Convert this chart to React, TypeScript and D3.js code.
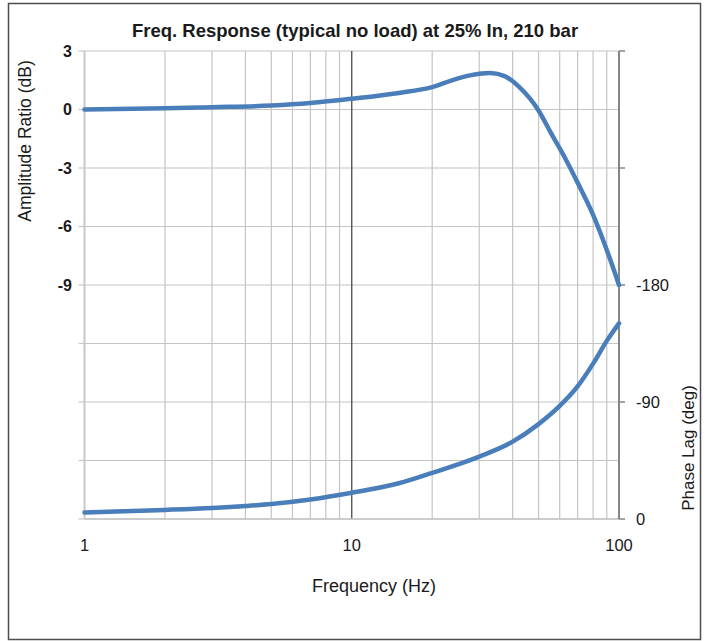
import React from 'react'
import * as d3 from 'd3'

// amplitude ratio
const ampFreq = [1, 2, 3, 5, 7, 10, 15, 20, 25, 30, 33, 37.5, 42, 50, 55.6, 62.6, 70, 80, 90, 100]
const ampDb = [0, 0.07, 0.12, 0.2, 0.33, 0.55, 0.85, 1.15, 1.6, 1.83, 1.87, 1.7, 1.2, -0.05, -1.2, -2.45, -3.75, -5.4, -7.2, -9]

// phase lag
const phaseFreq = [1, 2, 3, 4, 5, 7, 10, 15, 20, 30, 40, 50, 60, 70, 80, 90, 100]
const phaseDeg = [-5, -7, -8.5, -10, -11.5, -15, -20.2, -27.5, -35.5, -48, -59.5, -73, -87, -102, -119.5, -137, -150.5]

const dbTicks = [3, 0, -3, -6, -9]
const phaseTicks = [0, -90, -180]
const freqTicks = [1, 10, 100]

const title = 'Freq. Response (typical no load) at 25% In, 210 bar'

export default function App() {
  const width = 708
  const height = 641
  const left = 84.5, right = 619, top = 51, bottom = 519

  const x = d3.scaleLog().domain([1, 100]).range([left, right])
  const yDb = d3.scaleLinear().domain([-21, 3]).range([bottom, top])
  const yPh = d3.scaleLinear().domain([0, -360]).range([bottom, top])

  const minorFreqs = d3.range(1, 100).filter(f => f < 10 || (f % 10 === 0))
  const gridDb = d3.range(-21, 4, 3)
  const gridPh = d3.range(0, -361, -90)

  const ampLine = d3.line<number>()
    .x((_, i) => x(ampFreq[i]))
    .y(d => yDb(d))
    .curve(d3.curveMonotoneX)
  const phaseLine = d3.line<number>()
    .x((_, i) => x(phaseFreq[i]))
    .y(d => yPh(d))
    .curve(d3.curveMonotoneX)

  const font = 'Arial, "Liberation Sans", sans-serif'

  return <svg width={width} height={height} style={{position: 'absolute', left: 0, top: 0}} fontFamily={font}>
    <rect x={0} y={0} width={width} height={height} fill='white' />
    <rect x={8.5} y={3.5} width={692} height={636} fill='none' stroke='#4d4d4d' strokeWidth={1.5} />

    {/* grid */}
    {gridDb.map(d => <line key={'h' + d} x1={left} x2={right} y1={yDb(d)} y2={yDb(d)} stroke='#c4c4c4' strokeWidth={1.2} />)}
    {minorFreqs.filter(f => f !== 1 && f !== 10 && f !== 100).map(f =>
      <line key={'v' + f} x1={x(f)} x2={x(f)} y1={top} y2={bottom} stroke='#c4c4c4' strokeWidth={1.2} />)}
    <line x1={x(10)} x2={x(10)} y1={top} y2={bottom} stroke='#4a4a4a' strokeWidth={1.3} />

    {/* axes */}
    <line x1={left} x2={left} y1={top} y2={bottom} stroke='#c8c8c8' strokeWidth={2} />
    {gridDb.map(d => <line key={'lt' + d} x1={left - 6} x2={left} y1={yDb(d)} y2={yDb(d)} stroke='#c8c8c8' strokeWidth={1.2} />)}
    <line x1={left} x2={right} y1={bottom} y2={bottom} stroke='#c4c4c4' strokeWidth={1.5} />
    <line x1={right} x2={right} y1={top} y2={bottom} stroke='#868686' strokeWidth={2} />
    {gridPh.map(d => <line key={'rt' + d} x1={right} x2={right + 6} y1={yPh(d)} y2={yPh(d)} stroke='#868686' strokeWidth={1.5} />)}

    {/* curves */}
    <path d={ampLine(ampDb) || ''} fill='none' stroke='#4a7ebb' strokeWidth={4.5} strokeLinejoin='round' strokeLinecap='round' />
    <path d={phaseLine(phaseDeg) || ''} fill='none' stroke='#4a7ebb' strokeWidth={4.5} strokeLinejoin='round' strokeLinecap='round' />

    {/* tick labels */}
    {dbTicks.map(d => <text key={'lb' + d} x={72} y={yDb(d)} dy='0.35em' textAnchor='end' fontSize={16} fontWeight='bold' fill='#1a1a1a'>{d}</text>)}
    {phaseTicks.map(d => <text key={'rb' + d} x={636} y={yPh(d)} dy='0.35em' fontSize={16.5} fill='#1a1a1a'>{d}</text>)}
    {freqTicks.map(f => <text key={'bb' + f} x={x(f)} y={545} dy='0.35em' textAnchor='middle' fontSize={16.5} fill='#1a1a1a'>{f}</text>)}

    {/* titles */}
    <text x={355} y={37} textAnchor='middle' fontSize={18.5} fontWeight='bold' fill='#1a1a1a'>{title}</text>
    <text x={374} y={586} dy='0.35em' textAnchor='middle' fontSize={18} fill='#1a1a1a'>Frequency (Hz)</text>
    <text transform='translate(25,141) rotate(-90)' dy='0.35em' textAnchor='middle' fontSize={17.5} fill='#1a1a1a'>Amplitude Ratio (dB)</text>
    <text transform='translate(688,448) rotate(-90)' dy='0.35em' textAnchor='middle' fontSize={17} fill='#1a1a1a'>Phase Lag (deg)</text>
  </svg>
}
